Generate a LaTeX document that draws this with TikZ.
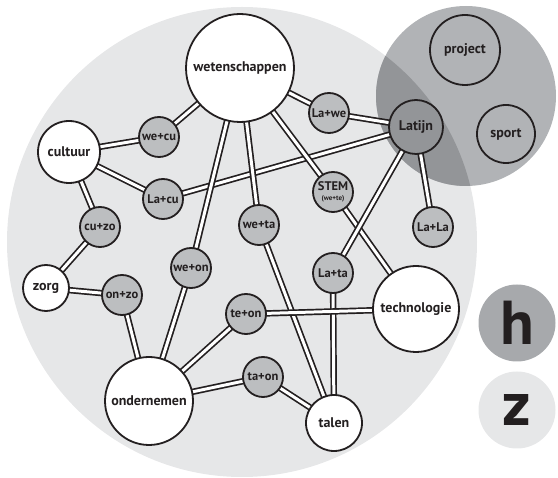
\documentclass[tikz,border=0pt]{standalone}
\usepackage{fontspec}
\setmainfont{PT Sans}
\definecolor{ink}{HTML}{231F20}
\definecolor{lightg}{HTML}{E6E7E8}
\definecolor{midg}{HTML}{B1B3B6}
\definecolor{nodeg}{HTML}{BCBEC0}
\definecolor{overg}{HTML}{939598}
\definecolor{hg}{HTML}{A7A9AC}
\pgfdeclarelayer{bgl}
\pgfdeclarelayer{edl}
\pgfsetlayers{bgl,edl,main}
\tikzset{
  bignode/.style={circle, draw=ink, fill=white, line width=1.8pt, inner sep=0pt, outer sep=0pt,
    text=ink, font=\fontsize{14}{14}\selectfont\bfseries},
  smallnode/.style={circle, draw=ink, fill=nodeg, line width=1.8pt, inner sep=0pt, outer sep=0pt,
    minimum size=40pt, text=ink, font=\fontsize{12.5}{12.5}\selectfont\bfseries},
  link/.style={draw=ink, line width=1.7pt, double=white, double distance=3pt,
    shorten <=-4pt, shorten >=-4pt},
  legendnode/.style={circle, inner sep=0pt, minimum size=77pt, text=ink,
    font=\fontsize{62}{62}\selectfont\bfseries}
}
\begin{document}
\begin{tikzpicture}[x=1pt,y=-1pt]
\useasboundingbox (0,0) rectangle (558,478);
% background circles
\begin{pgfonlayer}{bgl}
  \fill[lightg] (242,242) circle[radius=235pt];
  \fill[midg] (466,96) circle[radius=90pt];
  \begin{scope}
    \clip (242,242) circle[radius=235pt];
    \fill[overg] (466,96) circle[radius=90pt];
  \end{scope}
\end{pgfonlayer}
% main nodes
\node[bignode, minimum size=108pt] (we) at (240,68) {wetenschappen};
\node[bignode, minimum size=62pt] (cu) at (69,152) {cultuur};
\node[bignode, minimum size=46pt] (zo) at (46,288) {zorg};
\node[bignode, minimum size=88pt] (on) at (149,401) {ondernemen};
\node[bignode, minimum size=56pt] (ta) at (334,423) {talen};
\node[bignode, minimum size=86pt] (te) at (416,309) {technologie};
\node[bignode, minimum size=54pt, fill=overg] (la) at (416,127) {Latijn};
\node[bignode, minimum size=70pt, fill=none] (pr) at (465,50) {project};
\node[bignode, minimum size=58pt, fill=none] (sp) at (506,134) {sport};
% combination nodes
\node[smallnode] (wecu) at (159,137) {we+cu};
\node[smallnode] (lacu) at (163,199) {La+cu};
\node[smallnode] (cuzo) at (100,227) {cu+zo};
\node[smallnode] (onzo) at (122,295) {on+zo};
\node[smallnode] (weon) at (191,268) {we+on};
\node[smallnode] (teon) at (246,314) {te+on};
\node[smallnode] (taon) at (263,377) {ta+on};
\node[smallnode] (lawe) at (329,113) {La+we};
\node[smallnode, align=center] (stem) at (333,192) {STEM\\[-2pt]{\fontsize{7}{7}\selectfont(we+te)}};
\node[smallnode] (lala) at (433,227) {La+La};
\node[smallnode] (lata) at (333,273) {La+ta};
\node[smallnode] (weta) at (259,225) {we+ta};
% legend
\node[legendnode, fill=hg] (h) at (517,323) {h};
\node[legendnode, fill=lightg] (z) at (517,410) {z};
% connectors
\begin{pgfonlayer}{edl}
  \draw[link] (we) -- (wecu);
  \draw[link] (wecu) -- (cu);
  \draw[link] (we) -- (lawe);
  \draw[link] (lawe) -- (la);
  \draw[link] (cu) -- (lacu);
  \draw[link] (lacu) -- (la);
  \draw[link] (cu) -- (cuzo);
  \draw[link] (cuzo) -- (zo);
  \draw[link] (zo) -- (onzo);
  \draw[link] (onzo) -- (on);
  \draw[link] (we) -- (weon);
  \draw[link] (weon) -- (on);
  \draw[link] (we) -- (weta);
  \draw[link] (weta) -- (ta);
  \draw[link] (we) -- (stem);
  \draw[link] (stem) -- (te);
  \draw[link] (la) -- (lata);
  \draw[link] (lata) -- (ta);
  \draw[link] (la) -- (lala);
  \draw[link] (te) -- (teon);
  \draw[link] (teon) -- (on);
  \draw[link] (ta) -- (taon);
  \draw[link] (taon) -- (on);
\end{pgfonlayer}
\end{tikzpicture}
\end{document}
